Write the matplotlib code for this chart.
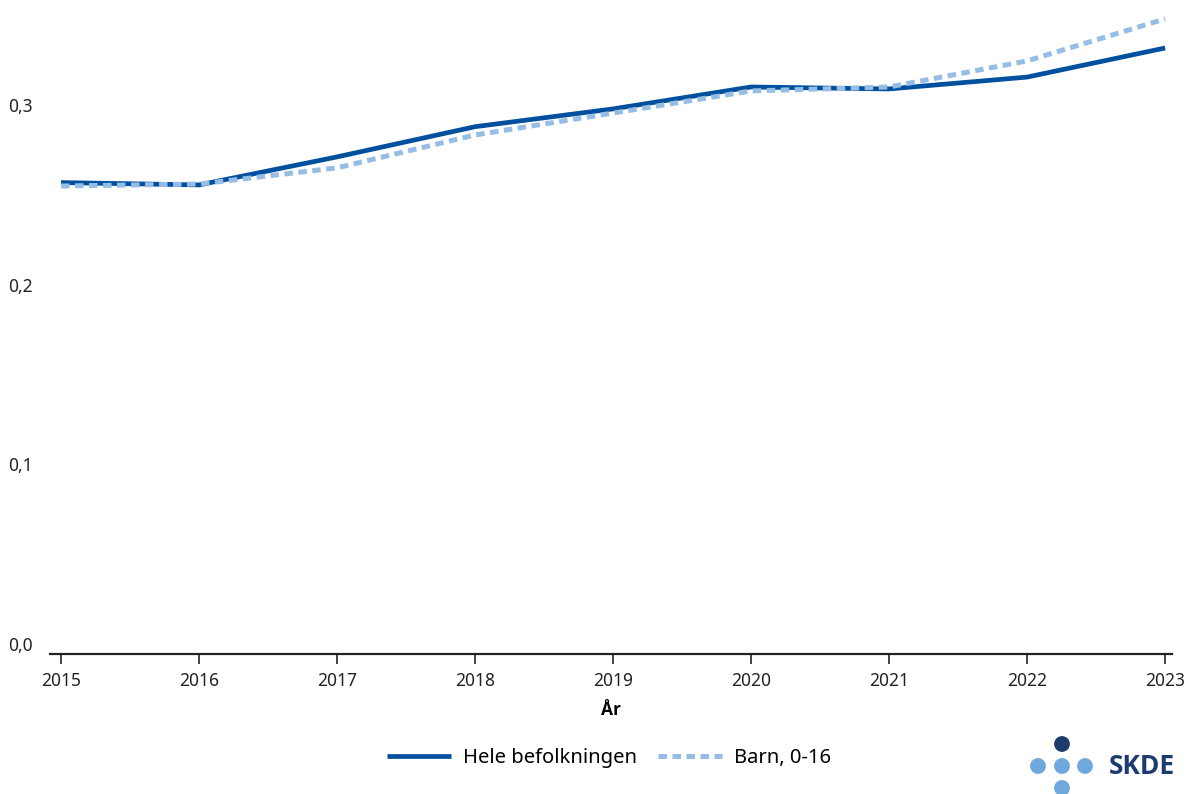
import matplotlib
matplotlib.use("Agg")
import matplotlib.pyplot as plt
from matplotlib.patches import Circle
from matplotlib.transforms import ScaledTranslation

# Andel per år, hele befolkningen og barn 0-16 år
AAR = [2015, 2016, 2017, 2018, 2019, 2020, 2021, 2022, 2023]
HELE = [0.2623, 0.2610, 0.2766, 0.2934, 0.3033, 0.3155, 0.3144, 0.3210, 0.3372]
BARN = [0.2604, 0.2615, 0.2705, 0.2888, 0.3010, 0.3133, 0.3155, 0.3300, 0.3534]

Y_TICKS = [0.0, 0.1, 0.2, 0.3]
Y_LABELS = ["0,0", "0,1", "0,2", "0,3"]

MORK_BLA = "#00509e"
LYS_BLA = "#95bde6"
SKDE_MORK = "#1d3b6f"
SKDE_LYS = "#6fa8dc"

plt.rcParams["font.family"] = ["Noto Sans", "DejaVu Sans"]

W, H = 1192, 794
fig = plt.figure(figsize=(W / 100, H / 100), dpi=100)
ax = fig.add_axes([50 / W, 1 - 654 / H, 1122 / W, 647 / H])

ax.plot(AAR, HELE, color=MORK_BLA, lw=3.4, solid_capstyle="butt",
        label="Hele befolkningen")
ax.plot(AAR, BARN, color=LYS_BLA, lw=3.6, ls=(0, (1.7, 1.1)),
        dash_capstyle="butt", label="Barn, 0-16")

ax.set_xlim(2014.92, 2023.05)
ax.set_ylim(0, 0.36)
ax.set_xticks(AAR)
ax.set_xticklabels([str(a) for a in AAR])
ax.tick_params(axis="x", length=7, width=1.2, pad=6, labelsize=12.5,
               color="#222222", labelcolor="#222222")

# y-aksen uten linje: etikettene står venstrestilt litt over nivået
ax.set_yticks(Y_TICKS)
ax.set_yticklabels(Y_LABELS)
ax.tick_params(axis="y", length=0, pad=30.2, labelsize=12.5,
               labelcolor="#222222")
for lab in ax.get_yticklabels():
    lab.set_horizontalalignment("left")
    lab.set_transform(lab.get_transform()
                      + ScaledTranslation(0, 0.10, fig.dpi_scale_trans))

for side in ["top", "right", "left"]:
    ax.spines[side].set_visible(False)
ax.spines["bottom"].set_linewidth(1.6)
ax.spines["bottom"].set_color("#222222")

ax.set_xlabel("År", fontsize=12.5, fontweight="bold", labelpad=8,
              family=["Open Sans", "DejaVu Sans"])

fig.legend(loc="center", bbox_to_anchor=(609 / W, 1 - 758 / H), ncol=2,
           frameon=False, fontsize=14.5, handlelength=3.2, handletextpad=0.6,
           columnspacing=1.0)

# SKDE-logo nede til høyre
logo = fig.add_axes([0, 0, 1, 1], facecolor="none")
logo.set_xlim(0, W)
logo.set_ylim(H, 0)
logo.axis("off")
logo.add_patch(Circle((1062, 744), 7.2, color=SKDE_MORK))
for x, y in [(1038, 766), (1062, 766), (1085, 766), (1062, 788)]:
    logo.add_patch(Circle((x, y), 7.2, color=SKDE_LYS))
logo.text(1109, 767, "SKDE", fontsize=19, fontweight="bold",
          color=SKDE_MORK, ha="left", va="center",
          family=["Open Sans", "DejaVu Sans"])

fig.savefig("out.png", dpi=100)
